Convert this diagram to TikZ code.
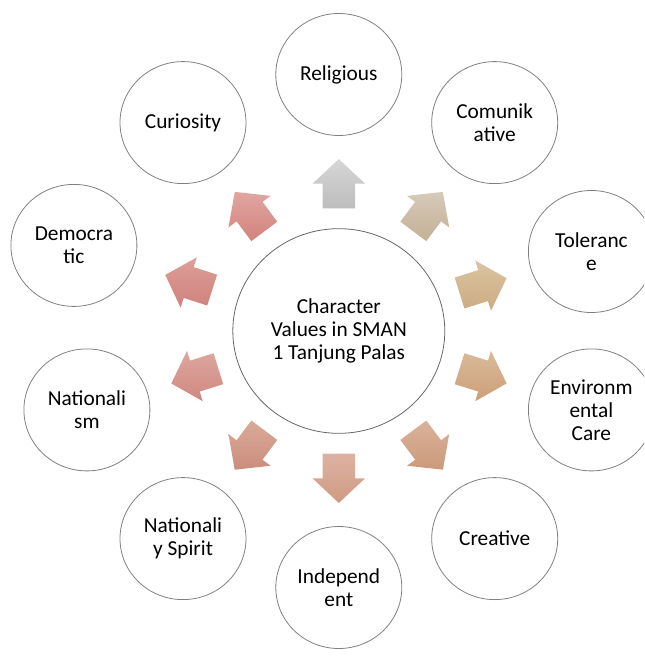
\documentclass[tikz,border=0pt]{standalone}
\usepackage{fontspec}
\setmainfont{Carlito}
\usetikzlibrary{calc,shapes.geometric}

\definecolor{relA}{HTML}{D6D6D6}\definecolor{relB}{HTML}{BDBDBD}
\definecolor{comA}{HTML}{D6CABA}\definecolor{comB}{HTML}{C4B095}
\definecolor{tolA}{HTML}{DAC4A2}\definecolor{tolB}{HTML}{CBAC82}
\definecolor{envA}{HTML}{DABA9A}\definecolor{envB}{HTML}{CB9F77}
\definecolor{creA}{HTML}{DAB29A}\definecolor{creB}{HTML}{CB9A7B}
\definecolor{indA}{HTML}{DDB2A2}\definecolor{indB}{HTML}{CF9A83}
\definecolor{spiA}{HTML}{DAAA9A}\definecolor{spiB}{HTML}{CB8D7B}
\definecolor{natA}{HTML}{DDA69E}\definecolor{natB}{HTML}{CF8980}
\definecolor{demA}{HTML}{DE9E9A}\definecolor{demB}{HTML}{CF827C}
\definecolor{curA}{HTML}{E1A6A2}\definecolor{curB}{HTML}{D3827C}

\begin{document}
\begin{tikzpicture}[x=0.75pt,y=-0.75pt,
    value/.style={ellipse,draw=black!50,line width=0.6pt,inner sep=0pt,
        minimum width=94.5pt,minimum height=91.5pt,align=center,
        font=\fontsize{16}{17.2}\selectfont},
    core/.style={value,draw=black!60,minimum width=159pt,minimum height=153.5pt}]
    \useasboundingbox (0,0) rectangle (644,664);
    \clip (0,0) rectangle (644,664);
    % centre
    \node[core] (ctr) at (338.8,331) {Character\\Values in SMAN\\1 Tanjung Palas};
    % values round it
    \node[value] (rel) at (338.8,74.5) {Religious};
    \node[value] (com) at (494.7,122.6) {Comunik\\ative};
    \node[value] (tol) at (591.4,251.5) {Toleranc\\e};
    \node[value] (env) at (591.4,409.9) {Environm\\ental\\Care};
    \node[value] (cre) at (494.7,538.6) {Creative};
    \node[value] (ind) at (338.8,587.5) {Independ\\ent};
    \node[value] (spi) at (183,538.6) {Nationali\\y Spirit};
    \node[value] (nat) at (86.9,409.9) {Nationali\\sm};
    \node[value] (dem) at (73.9,245.4) {Democra\\tic};
    \node[value] (cur) at (183,122.6) {Curiosity};
    % block arrows, back at (s-), head base at (h-), tip at (t-)
    \foreach \v/\ca/\cb in {rel/relA/relB,com/comA/comB,tol/tolA/tolB,env/envA/envB,
        cre/creA/creB,ind/indA/indB,spi/spiA/spiB,nat/natA/natB,dem/demA/demB,cur/curA/curB}{
        \coordinate (s-\v) at ($(ctr)!0.478!(\v)$);
        \coordinate (h-\v) at ($(s-\v)!18.5pt!(\v)$);
        \coordinate (t-\v) at ($(s-\v)!37pt!(\v)$);
        \shade[top color=\ca,bottom color=\cb]
            ($(s-\v)!12.15pt!90:(\v)$) -- ($(h-\v)!12.15pt!90:(\v)$)
            -- ($(h-\v)!19.75pt!90:(\v)$) -- (t-\v)
            -- ($(h-\v)!19.75pt!-90:(\v)$) -- ($(h-\v)!12.15pt!-90:(\v)$)
            -- ($(s-\v)!12.15pt!-90:(\v)$) -- cycle;
    }
\end{tikzpicture}
\end{document}
